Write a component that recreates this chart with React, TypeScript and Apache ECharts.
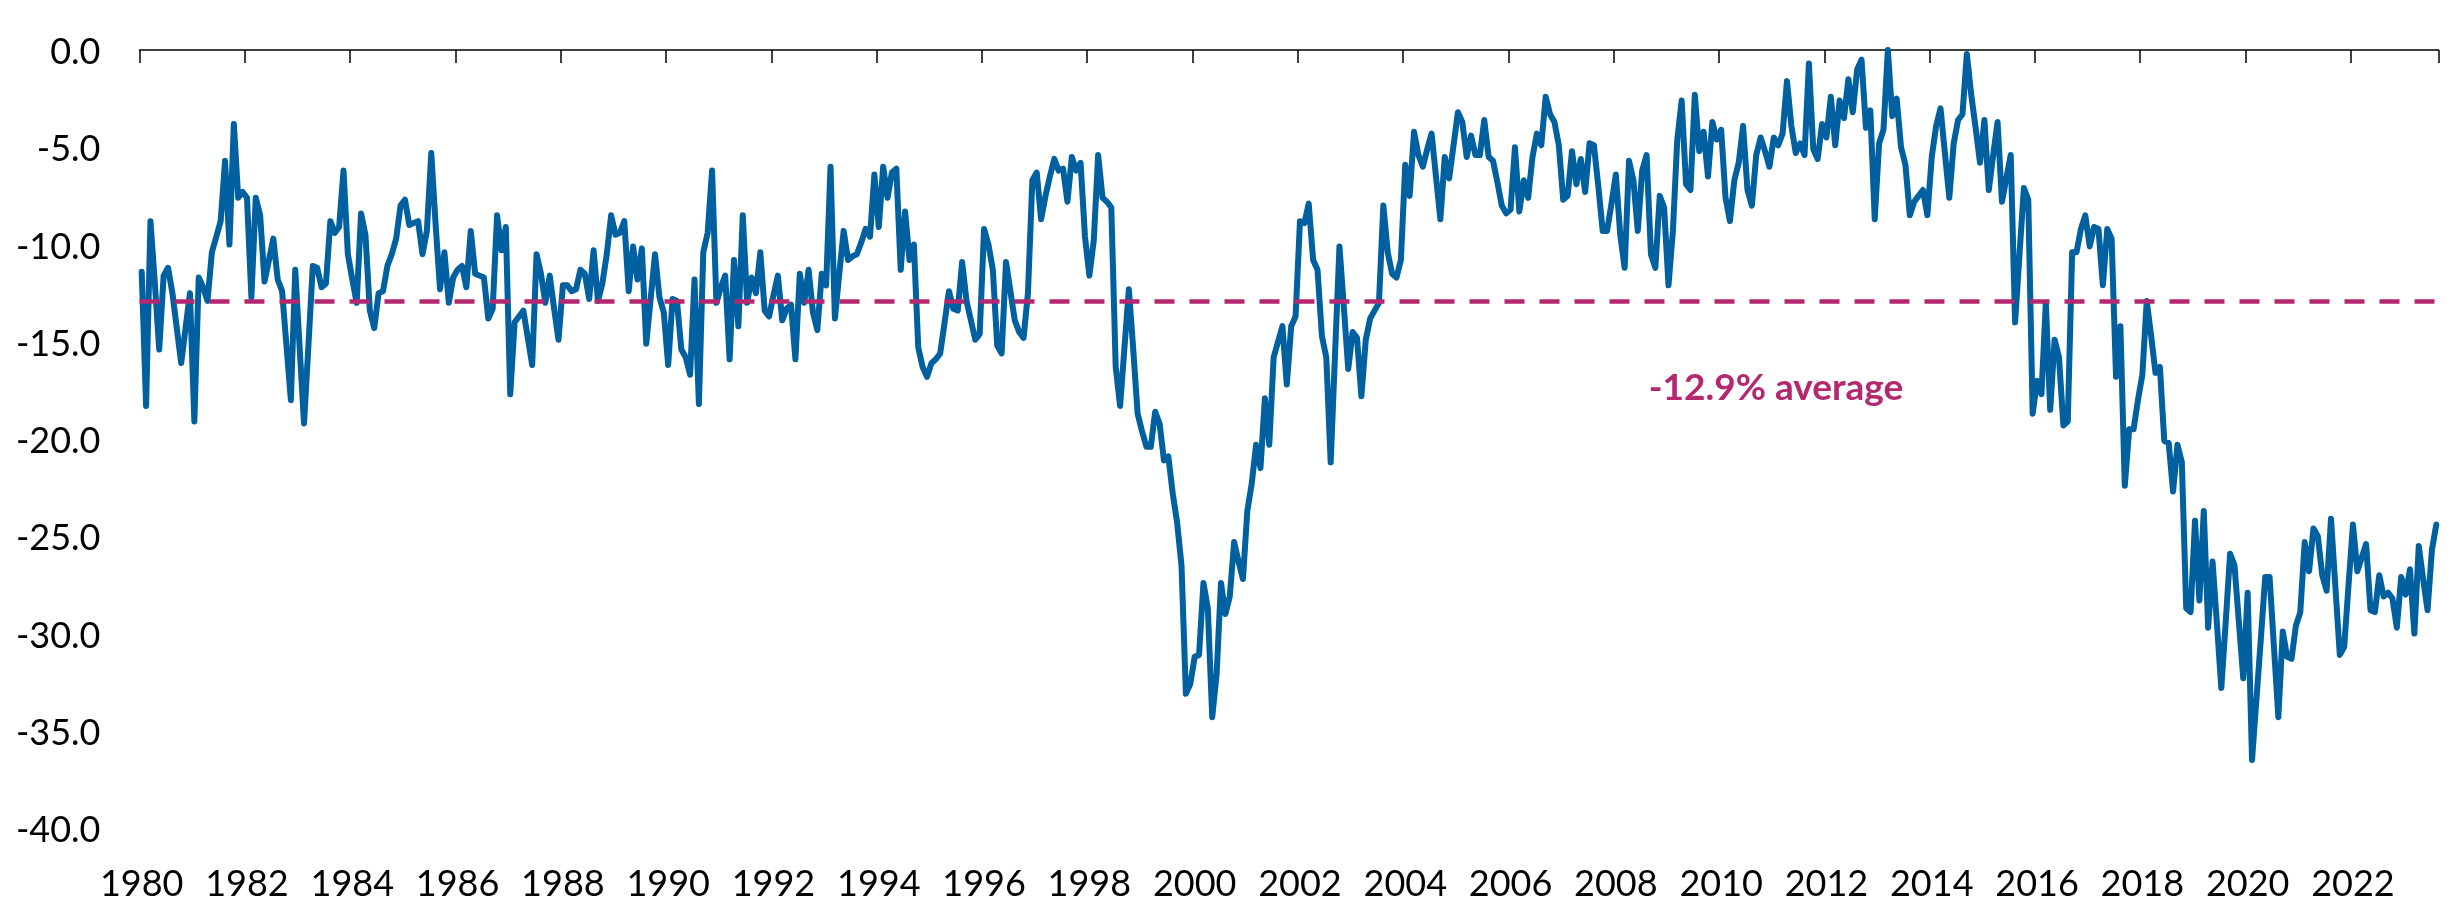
import React, { useEffect, useRef } from "react";
import * as echarts from "echarts";

const START_YEAR = 1980;
const AVERAGE = -12.9;
const AVERAGE_LABEL = "-12.9% average";
const Y_MIN = -40;
const Y_MAX = 0;
const Y_STEP = 5;

// Monthly values, one row per year
const values1980s = [
  -11.4, -18.3, -8.8, -12.0, -15.4, -11.6, -11.2, -12.5, -14.3, -16.1, -14.3, -12.5,
  -19.1, -11.7, -12.2, -12.9, -10.4, -9.6, -8.8, -5.7, -10.0, -3.8, -7.6, -7.3,
  -7.6, -12.7, -7.6, -8.5, -11.9, -10.8, -9.7, -11.8, -12.4, -15.2, -18.0, -11.3,
  -15.3, -19.2, -15.2, -11.1, -11.2, -12.2, -12.0, -8.8, -9.4, -9.1, -6.2, -10.5,
  -11.8, -13.0, -8.4, -9.5, -13.4, -14.3, -12.5, -12.4, -11.1, -10.5, -9.7, -8.0,
  -7.7, -9.0, -8.9, -8.8, -10.5, -9.3, -5.3, -9.0, -12.3, -10.4, -13.0, -11.7,
  -11.3, -11.1, -12.2, -9.3, -11.5, -11.6, -11.7, -13.8, -13.3, -8.5, -10.3, -9.1,
  -17.7, -14.0, -13.7, -13.4, -14.8, -16.2, -10.5, -11.5, -13.0, -11.6, -13.3, -14.9,
  -12.1, -12.1, -12.4, -12.3, -11.3, -11.5, -12.8, -10.3, -12.9, -12.0, -10.5, -8.5,
  -9.5, -9.4, -8.8, -12.4, -10.1, -11.8, -10.2, -15.1, -12.8, -10.5, -12.7, -13.5,
];
const values1990s = [
  -16.2, -12.8, -12.9, -15.4, -15.8, -16.7, -11.8, -18.2, -10.4, -9.4, -6.2, -13.0,
  -12.2, -11.6, -15.9, -10.8, -14.2, -8.5, -13.0, -11.7, -12.5, -10.4, -13.4, -13.7,
  -12.6, -11.6, -13.9, -13.3, -13.1, -15.9, -11.5, -13.0, -11.3, -13.5, -14.4, -11.5,
  -12.1, -6.0, -13.8, -11.5, -9.3, -10.8, -10.6, -10.5, -9.9, -9.2, -9.6, -6.4,
  -9.1, -6.0, -7.6, -6.3, -6.1, -11.3, -8.3, -10.8, -10.0, -15.3, -16.3, -16.8,
  -16.1, -15.9, -15.6, -14.0, -12.4, -13.3, -13.4, -10.9, -12.9, -13.9, -14.9, -14.6,
  -9.2, -10.0, -11.3, -15.2, -15.6, -10.9, -12.4, -13.9, -14.5, -14.8, -12.5, -6.7,
  -6.3, -8.7, -7.5, -6.5, -5.6, -6.2, -6.1, -7.8, -5.5, -6.2, -5.8, -9.6,
  -11.6, -9.8, -5.4, -7.6, -7.8, -8.1, -16.3, -18.3, -15.3, -12.3, -15.4, -18.7,
  -19.6, -20.4, -20.4, -18.6, -19.2, -21.1, -20.9, -22.8, -24.3, -26.5, -33.1, -32.6,
];
const values2000s = [
  -31.2, -31.1, -27.4, -28.7, -34.3, -32.1, -27.4, -29.0, -28.1, -25.3, -26.3, -27.2,
  -23.7, -22.3, -20.3, -21.5, -17.9, -20.3, -15.8, -15.0, -14.2, -17.2, -14.2, -13.7,
  -8.8, -8.9, -7.9, -10.8, -11.3, -14.7, -15.8, -21.2, -15.6, -10.1, -13.2, -16.4,
  -14.5, -14.8, -17.8, -14.9, -13.8, -13.4, -13.0, -8.0, -10.4, -11.5, -11.7, -10.8,
  -5.9, -7.5, -4.2, -5.4, -6.0, -5.1, -4.3, -6.5, -8.7, -5.5, -6.6, -4.9,
  -3.2, -3.7, -5.5, -4.4, -5.4, -5.4, -3.6, -5.5, -5.7, -6.8, -8.0, -8.4,
  -8.2, -5.0, -8.3, -6.7, -7.6, -5.5, -4.3, -4.9, -2.4, -3.3, -3.7, -4.9,
  -7.7, -7.5, -5.2, -6.9, -5.6, -7.3, -4.8, -4.9, -7.0, -9.3, -9.3, -7.9,
  -6.4, -9.5, -11.2, -5.7, -6.7, -9.3, -6.2, -5.4, -10.5, -11.2, -7.5, -8.1,
  -12.1, -9.3, -4.6, -2.6, -6.9, -7.2, -2.3, -5.2, -4.2, -6.5, -3.7, -4.6,
];
const values2010s = [
  -4.1, -7.6, -8.8, -6.7, -5.8, -3.9, -7.2, -8.0, -5.4, -4.5, -5.2, -6.0,
  -4.5, -4.9, -4.3, -1.6, -3.9, -5.3, -4.8, -5.4, -0.7, -5.1, -5.6, -3.8,
  -4.5, -2.4, -4.9, -2.6, -3.5, -1.5, -3.2, -1.0, -0.5, -4.0, -3.1, -8.7,
  -4.8, -4.1, 0.0, -3.4, -2.5, -5.0, -5.9, -8.5, -7.8, -7.5, -7.2, -8.5,
  -5.5, -3.9, -3.0, -5.3, -7.6, -4.8, -3.6, -3.3, -0.2, -2.3, -4.0, -5.8,
  -3.6, -7.2, -5.4, -3.7, -7.8, -6.6, -5.4, -14.0, -10.5, -7.1, -7.7, -18.7,
  -17.0, -17.7, -13.0, -18.5, -14.9, -15.8, -19.3, -19.1, -10.4, -10.4, -9.2, -8.5,
  -10.1, -9.1, -9.2, -12.1, -9.2, -9.7, -16.8, -14.2, -22.4, -19.5, -19.5, -18.0,
  -16.7, -12.9, -14.7, -16.6, -16.3, -20.1, -20.2, -22.7, -20.3, -21.2, -28.7, -28.9,
  -24.2, -28.3, -23.7, -29.7, -26.3, -29.5, -32.8, -29.4, -25.9, -26.5, -29.4, -32.3,
];
const values2020s = [
  -27.9, -36.5, -33.4, -30.3, -27.1, -27.1, -30.7, -34.3, -29.9, -31.2, -31.3, -29.6,
  -28.9, -25.3, -26.8, -24.6, -25.0, -27.0, -27.8, -24.1, -27.6, -31.1, -30.7, -27.5,
  -24.4, -26.8, -26.1, -25.4, -28.8, -28.9, -27.0, -28.1, -27.9, -28.2, -29.7, -27.1,
  -28.0, -26.7, -30.0, -25.5, -27.2, -28.8, -25.7, -24.4,
];

const values = [...values1980s, ...values1990s, ...values2000s, ...values2010s, ...values2020s];
const months = values.map(
  (_, i) => `${START_YEAR + Math.floor(i / 12)}-${String((i % 12) + 1).padStart(2, "0")}`
);

const LINE_COLOR = "#0060A0";
const AVG_COLOR = "#B3286F";
const FONT = "Lato";

export default function App() {
  const ref = useRef<HTMLDivElement>(null);
  useEffect(() => {
    const chart = echarts.init(ref.current as HTMLDivElement, null, { renderer: "svg" });
    chart.setOption({
      animation: false,
      grid: { left: 139.5, top: 50, width: 2299, height: 778, containLabel: false },
      xAxis: [
        {
          type: "category",
          data: months,
          position: "top",
          boundaryGap: true,
          axisLine: { show: true, onZero: false, lineStyle: { color: "#000", width: 1.5 } },
          axisTick: { show: true, inside: true, length: 13, interval: 23, lineStyle: { color: "#000", width: 1.5 } },
          axisLabel: { show: false },
          splitLine: { show: false },
        },
        {
          type: "category",
          data: months,
          position: "bottom",
          boundaryGap: true,
          axisLine: { show: false, onZero: false },
          axisTick: { show: false },
          splitLine: { show: false },
          axisLabel: {
            interval: 23,
            formatter: (v: string) => v.slice(0, 4),
            margin: 36,
            fontFamily: FONT,
            fontSize: 36,
            color: "#000",
          },
        },
      ],
      yAxis: {
        type: "value",
        min: Y_MIN,
        max: Y_MAX,
        interval: Y_STEP,
        axisLine: { show: false },
        axisTick: { show: false },
        splitLine: { show: false },
        axisLabel: {
          formatter: (v: number) => v.toFixed(1),
          margin: 39,
          fontFamily: FONT,
          fontSize: 36,
          color: "#000",
        },
      },
      series: [
        {
          type: "line",
          xAxisIndex: 0,
          data: values,
          symbol: "none",
          showSymbol: false,
          lineStyle: { color: LINE_COLOR, width: 6, cap: "round", join: "round" },
          markLine: {
            silent: true,
            symbol: ["none", "none"],
            label: { show: false },
            lineStyle: { color: AVG_COLOR, width: 4.5, type: [20, 15] },
            data: [{ yAxis: AVERAGE }],
          },
        },
      ],
      graphic: [
        {
          type: "text",
          x: 1776,
          y: 385,
          style: {
            text: AVERAGE_LABEL,
            fill: AVG_COLOR,
            font: `bold 37px ${FONT}`,
            textAlign: "center",
            textVerticalAlign: "middle",
            align: "center",
            verticalAlign: "middle",
          },
        },
      ],
    });
    return () => chart.dispose();
  }, []);
  return (
    <div
      ref={ref}
      style={{ position: "fixed", left: 0, top: 0, width: 2455, height: 921 }}
    />
  );
}
